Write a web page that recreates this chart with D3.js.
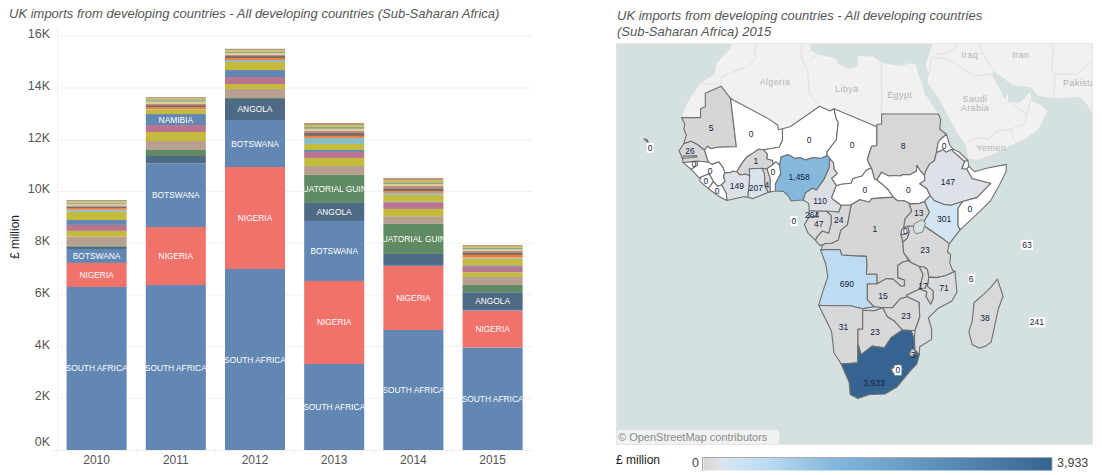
<!DOCTYPE html>
<html>
<head>
<meta charset="utf-8">
<script src="https://cdn.jsdelivr.net/npm/d3@7"></script>
<style>
body { margin: 0; background: #fff; font-family: "Liberation Sans", Arial, sans-serif; }
svg { display: block; }
</style>
</head>
<body>
<div id="chart"></div>
<script>
// ---- stacked bars, £ million
var years = ["2010", "2011", "2012", "2013", "2014", "2015"];
var yTicks = [0, 2000, 4000, 6000, 8000, 10000, 12000, 14000, 16000];

var southAfrica = [6305, 6380, 7000, 3327, 4642, 3965];
var nigeria = [930, 2245, 3945, 3211, 2476, 1424];
var botswana = [540, 2455, 1818, 2321, 39, 27];
var angola = [90, 290, 812, 696, 426, 685];
var eqGuinea = [30, 232, 39, 1083, 1161, 282];
var tanSeries = [360, 348, 348, 348, 298, 309];
var oliveSeries = [220, 348, 193, 310, 282, 182];
var pinkSeries = [230, 270, 270, 232, 259, 232];
var namibia = [190, 425, 270, 77, 25, 39];
var olive2Series = [320, 180, 310, 232, 259, 255];
var tealSeries = [80, 12, 77, 232, 77, 39];
var orangeSeries = [65, 77, 77, 77, 66, 104];
var brownSeries = [50, 77, 77, 116, 116, 104];
var rest1 = [50, 60, 55, 85, 90, 55];
var rest2 = [60, 70, 60, 75, 70, 60];
var rest3 = [50, 60, 55, 75, 70, 55];
var rest4 = [40, 60, 55, 70, 88, 55];
var rest5 = [60, 60, 57, 82, 80, 57];

var seriesValues = [southAfrica, nigeria, botswana, angola, eqGuinea, tanSeries, oliveSeries, pinkSeries,
    namibia, olive2Series, tealSeries, orangeSeries, brownSeries, rest1, rest2, rest3, rest4, rest5];
var seriesLabels = ["SOUTH AFRICA", "NIGERIA", "BOTSWANA", "ANGOLA", "EQUATORIAL GUINEA", "", "", "",
    "NAMIBIA", "", "", "", "", "", "", "", "", ""];
var seriesColors = ["#6287b3", "#f1716b", "#6287b3", "#4f6a85", "#5f8a63", "#b8a090", "#c4bb3c", "#b9758f",
    "#6287b3", "#c4bb3c", "#87bdc9", "#f47b3d", "#7d6a5c", "#b58f88", "#e3c98a", "#7fa98a", "#d0b94f", "#b39a7c"];
// which years carry a text label, by series index
var labelYears = [
    ["2010", "2011", "2012", "2013", "2014", "2015"],
    ["2010", "2011", "2012", "2013", "2014", "2015"],
    ["2010", "2011", "2012", "2013"],
    ["2012", "2013", "2015"],
    ["2013", "2014"],
    [], [], [],
    ["2011"]
];

// ---- map values
var countryNames = ["Mauritania", "Mali", "Niger", "Chad", "Sudan", "South Sudan", "Eritrea", "Djibouti", "Ethiopia", "Somalia",
    "Kenya", "Uganda", "Rwanda", "Burundi", "Tanzania", "DRC", "Congo", "Gabon", "Equatorial Guinea", "Cameroon",
    "CAR", "Nigeria", "Benin", "Togo", "Ghana", "Burkina Faso", "Cote d'Ivoire", "Liberia", "Sierra Leone", "Guinea",
    "Guinea-Bissau", "Senegal", "Gambia", "Angola", "Zambia", "Zimbabwe", "Botswana", "Namibia", "South Africa", "Lesotho",
    "Swaziland", "Mozambique", "Malawi", "Madagascar", "Cape Verde", "Sao Tome", "Seychelles", "Comoros", "Mauritius"];
var countryValues = [5, 0, 0, 0, 8, 0, 0, 0, 147, 0,
    301, 13, 0, 1, 23, 1, 24, 47, 264, 110,
    0, 1458, 0, 4, 207, 1, 149, 0, 0, 0,
    0, 26, 1, 690, 15, 23, 23, 31, 3933, 0,
    3, 71, 17, 38, 0, 0, 63, 6, 241];
var labelPositions = [[-10.8, 19.3], [-2.4, 18], [9.8, 16.8], [18.8, 15.8], [29.5, 15.6], [30.6, 6.6], [38.1, 15.6], null, [38.9, 8.2], [43.5, 2.6],
    [38.1, 0.5], [32.8, 1.8], [30, -1.9], null, [34.1, -6], [23.6, -1.6], [16, 0.3], [11.8, -0.5], [10.4, 1.4], [12.1, 4.3],
    [21.5, 6.6], [7.7, 9.3], [2.2, 10.3], [0.9, 7.6], [-1.4, 7], [-1.4, 12.6], [-5.4, 7.4], [-9.5, 6.4], [-11.9, 8.5], [-11, 10.5],
    [-14.4, 11.9], [-15.2, 14.7], null, [17.7, -13], [25.3, -15.5], [30.1, -19.5], [23.6, -22.5], [17, -21.6], [23.4, -32.1], [28.4, -29.8],
    [31.6, -27], [38.1, -13.8], [33.7, -13.4], [46.7, -19.9], [-23.6, 15.3], [6.6, 0.1], [55.5, -4.9], [43.8, -12], [57.6, -20.7]];
var boxedLabels = ["Cape Verde", "Sao Tome", "Seychelles", "Comoros", "Mauritius", "Lesotho"];

// country outlines, lon/lat
var countryShapes = [
    [[-17, 21.3], [-16.3, 20], [-16.5, 19], [-16, 17.9], [-16.5, 16.1], [-15, 16.6], [-13.8, 16], [-12.2, 14.8], [-11.5, 15.6], [-10.9, 15.1], [-9.4, 15.4], [-5.5, 15.5], [-5.6, 16.4], [-6.7, 25], [-8.7, 27.3], [-12, 26], [-12, 23.4], [-13, 23], [-13, 21.3]],
    [[-5.5, 15.5], [-5.6, 16.4], [-6.7, 25], [1.2, 21.1], [3.2, 19.8], [3.3, 18.9], [4.2, 19.1], [4.2, 16.8], [3.5, 15.4], [0.2, 14.9], [-0.8, 15], [-2, 14.2], [-3, 13.6], [-3.4, 13.3], [-4.4, 12], [-5.4, 10.4], [-6.2, 10.5], [-6.9, 10.2], [-7.9, 10.2], [-8.2, 11], [-8.4, 11.4], [-9.2, 12.4], [-10.6, 11.9], [-11.4, 12.4], [-12.2, 14.8], [-11.5, 15.6], [-10.9, 15.1], [-9.4, 15.4]],
    [[4.2, 19.1], [5.8, 19.5], [12, 23.5], [14.2, 22.6], [15, 23], [15.5, 21], [15.9, 20.4], [15.5, 16.9], [13.5, 14.4], [13.6, 13.7], [12.3, 13.1], [10.7, 13.3], [9, 12.8], [7.8, 13.3], [6.8, 13.1], [5.4, 13.9], [3.9, 13.4], [3.6, 11.7], [2.8, 12.4], [2.2, 11.9], [2.1, 12.7], [0.9, 13], [1, 14], [0.2, 14.9], [3.5, 15.4], [4.2, 16.8]],
    [[15, 23], [24, 19.5], [24, 15.7], [22.9, 15.6], [22, 12.9], [22.9, 11], [22.4, 11], [21.7, 10.6], [20.9, 9.5], [19, 9], [18.6, 8], [16.6, 7.8], [15.5, 7.5], [14.5, 9], [15.7, 10], [15, 10.9], [14.9, 12.2], [14.1, 13.1], [13.6, 13.7], [13.5, 14.4], [15.5, 16.9], [15.9, 20.4], [15.5, 21]],
    [[24, 19.5], [24, 20], [25, 20], [25, 22], [36.9, 22], [37.4, 21], [37.2, 19], [38.6, 18], [37.4, 17], [36.9, 16.4], [36.5, 14.3], [36.1, 12.7], [35, 11.9], [34.3, 10.6], [34, 9.6], [33, 10.7], [32.4, 11.7], [32.3, 10.5], [31, 9.8], [29.5, 9.8], [28.9, 9.5], [27.9, 9.6], [26.5, 9.5], [25, 10.3], [24, 8.7], [23.5, 8.9], [22.9, 11], [22, 12.9], [22.9, 15.6], [24, 15.7]],
    [[24, 8.7], [25, 10.3], [26.5, 9.5], [27.9, 9.6], [28.9, 9.5], [29.5, 9.8], [31, 9.8], [32.3, 10.5], [32.4, 11.7], [33, 10.7], [34, 9.6], [34.1, 8.6], [33, 7.9], [34.5, 6.9], [35.2, 5.4], [34, 4.2], [33, 3.8], [31, 3.7], [29.6, 4.4], [28.4, 4.3], [27.4, 5.1], [26.4, 6.6], [25.1, 7.8]],
    [[36.5, 14.3], [36.9, 16.4], [37.4, 17], [38.6, 18], [39.3, 15.8], [40, 15], [41.2, 14.5], [43.1, 12.7], [42.4, 12.5], [40, 14.5], [39.8, 15], [38.5, 14.4], [37.9, 14.9]],
    [[43.1, 12.7], [43.3, 11.5], [42.9, 10.9], [41.8, 11], [42.4, 12.5]],
    [[36.5, 14.3], [37.9, 14.9], [38.5, 14.4], [39.8, 15], [40, 14.5], [42.4, 12.5], [41.8, 11], [42.9, 10.9], [44, 9], [47.9, 8], [45, 5], [42, 4.2], [41, 3.9], [39.6, 3.4], [38, 3.6], [36, 4.4], [35.2, 5.4], [34.5, 6.9], [33, 7.9], [34.1, 8.6], [34, 9.6], [34.3, 10.6], [35, 11.9], [36.1, 12.7]],
    [[42.9, 10.9], [43.3, 11.5], [44.5, 10.4], [47, 11.1], [51.2, 11.9], [51.1, 10.4], [49.8, 7.8], [47.9, 4.4], [45.5, 2], [41.5, -1.7], [41, -0.9], [41, 2.8], [42, 4.2], [45, 5], [47.9, 8], [44, 9]],
    [[41.5, -1.7], [39.2, -4.7], [37.7, -3.5], [34, -1], [33.9, 0.1], [35, 1.9], [34, 4.2], [35.2, 5.4], [36, 4.4], [38, 3.6], [39.6, 3.4], [41, 3.9], [42, 4.2], [41, 2.8], [41, -0.9]],
    [[34, 4.2], [35, 1.9], [33.9, 0.1], [34, -1], [30.5, -1], [29.6, -1.4], [29.9, 0.6], [31.3, 2.2], [30.8, 3.5], [31, 3.7], [33, 3.8]],
    [[29.6, -1.4], [30.5, -1], [30.8, -2.3], [29.9, -2.7], [29, -2.7], [29.2, -1.7]],
    [[29, -2.7], [29.9, -2.7], [30.8, -2.3], [30.4, -3.5], [29.4, -4.4], [29.2, -3.2]],
    [[30.5, -1], [34, -1], [37.7, -3.5], [39.2, -4.7], [38.8, -6.4], [39.5, -6.9], [39.3, -8.6], [39.9, -10.2], [40.4, -10.4], [38.4, -11.3], [36.5, -11.7], [34.9, -11.6], [34.6, -10], [33.9, -9.5], [32.9, -9.4], [31.2, -8.6], [29.6, -6.5], [29.4, -4.4], [30.4, -3.5], [30.8, -2.3]],
    [[12.2, -6], [13, -5.9], [16.3, -5.9], [16.6, -7], [19.4, -7.2], [21.8, -7.3], [21.9, -9.5], [21.8, -11], [24, -11], [24, -13], [26, -11.9], [27.4, -12], [29, -13.4], [29.8, -13.4], [29.8, -12.2], [28.4, -11.7], [28.4, -9.2], [29.6, -8.4], [30.7, -8.2], [29.6, -6.5], [29.4, -4.4], [29.2, -3.2], [29, -2.7], [29.2, -1.7], [29.6, -1.4], [29.9, 0.6], [31.3, 2.2], [30.8, 3.5], [31, 3.7], [29.6, 4.4], [28.4, 4.3], [27.4, 5.1], [25.3, 5], [22.9, 4.8], [22.4, 4.1], [20.4, 4.6], [18.6, 3.5], [17.8, -0.7], [16.4, -1.8], [15.9, -3.9], [14.4, -4.6], [13.1, -4.6], [12.7, -4.9]],
    [[18.6, 3.5], [16.5, 3.4], [16, 2], [13.3, 2.2], [14.4, 1.3], [14.4, -0.4], [13.9, -2.4], [12.5, -2], [11.6, -3], [11.1, -3.9], [12, -5], [12.7, -4.9], [13.1, -4.6], [14.4, -4.6], [15.9, -3.9], [16.4, -1.8], [17.8, -0.7]],
    [[9.8, 1], [11.3, 1], [11.3, 2.2], [13.3, 2.2], [14.4, 1.3], [14.4, -0.4], [13.9, -2.4], [12.5, -2], [11.6, -3], [11.1, -3.9], [9.6, -2.5], [8.8, -0.7], [9.5, 0.5]],
    [[9.8, 1], [11.3, 1], [11.3, 2.2], [9.8, 2.3]],
    [[8.5, 4.5], [9.7, 3.8], [9.8, 2.3], [11.3, 2.2], [13.3, 2.2], [16, 2], [16.5, 3.4], [15, 4.5], [14.5, 5], [15.5, 7.5], [14.5, 9], [15.7, 10], [15, 10.9], [14.9, 12.2], [14.1, 13.1], [14, 11.3], [13.2, 9.5], [12.8, 8.7], [11.3, 6.6], [10.5, 7], [9, 6]],
    [[14.5, 5], [15, 4.5], [16.5, 3.4], [18.6, 3.5], [20.4, 4.6], [22.4, 4.1], [22.9, 4.8], [25.3, 5], [27.4, 5.1], [26.4, 6.6], [25.1, 7.8], [24, 8.7], [23.5, 8.9], [22.9, 11], [22.4, 11], [21.7, 10.6], [20.9, 9.5], [19, 9], [18.6, 8], [16.6, 7.8], [15.5, 7.5]],
    [[3.6, 11.7], [3.9, 13.4], [5.4, 13.9], [6.8, 13.1], [7.8, 13.3], [9, 12.8], [10.7, 13.3], [12.3, 13.1], [13.6, 13.7], [14.1, 13.1], [14, 11.3], [13.2, 9.5], [12.8, 8.7], [11.3, 6.6], [10.5, 7], [9, 6], [8.5, 4.5], [7, 4.4], [6, 4.3], [5.3, 5.5], [4.4, 6.3], [2.7, 6.4], [2.7, 7.9], [3.8, 10]],
    [[1.6, 6.2], [2.7, 6.4], [2.7, 7.9], [3.8, 10], [3.6, 11.7], [2.8, 12.4], [2.2, 11.9], [0.9, 11], [1.6, 9]],
    [[0.9, 11], [1.6, 9], [1.6, 6.2], [1.2, 6.1], [0.5, 7.4], [0.4, 10], [-0.1, 11.1]],
    [[-0.1, 11.1], [0.4, 10], [0.5, 7.4], [1.2, 6.1], [-2, 4.8], [-3.1, 5.1], [-2.8, 7.9], [-2.7, 9.5], [-2.8, 11]],
    [[-5.4, 10.4], [-4.4, 12], [-3.4, 13.3], [-3, 13.6], [-2, 14.2], [-0.8, 15], [0.2, 14.9], [1, 14], [0.9, 13], [2.1, 12.7], [2.2, 11.9], [0.9, 11], [-0.1, 11.1], [-2.8, 11], [-2.7, 9.5], [-3.6, 9.9], [-4.7, 9.7]],
    [[-7.9, 10.2], [-6.9, 10.2], [-6.2, 10.5], [-5.4, 10.4], [-4.7, 9.7], [-3.6, 9.9], [-2.7, 9.5], [-2.8, 7.9], [-3.1, 5.1], [-4, 5.2], [-7.5, 4.4], [-7.6, 5.9], [-8.6, 7.7], [-7.9, 8.4], [-8.2, 9.5]],
    [[-7.5, 4.4], [-9.2, 5.3], [-11.4, 6.9], [-10.3, 8.4], [-9.4, 7.4], [-8.6, 7.7], [-7.6, 5.9]],
    [[-11.4, 6.9], [-13.2, 8.5], [-12.9, 9.3], [-11.2, 10], [-10.3, 8.4]],
    [[-13.3, 9.1], [-12.9, 9.3], [-11.2, 10], [-10.3, 8.4], [-9.4, 7.4], [-8.6, 7.7], [-7.9, 8.4], [-8.2, 9.5], [-7.9, 10.2], [-8.2, 11], [-8.4, 11.4], [-9.2, 12.4], [-10.6, 11.9], [-11.4, 12.4], [-13.7, 12.6], [-13.7, 11.7], [-15, 10.9]],
    [[-13.7, 12.6], [-16.7, 12.3], [-15, 10.9], [-13.7, 11.7]],
    [[-16.5, 16.1], [-15, 16.6], [-13.8, 16], [-12.2, 14.8], [-11.4, 12.4], [-13.7, 12.6], [-16.7, 12.3], [-16.8, 13.1], [-17.5, 14.7]],
    [[-16.8, 13.1], [-13.8, 13.4], [-13.8, 13.7], [-16.6, 13.6]],
    [[12.2, -6], [13, -5.9], [16.3, -5.9], [16.6, -7], [19.4, -7.2], [21.8, -7.3], [21.9, -9.5], [21.8, -11], [24, -11], [24, -13], [22, -13], [22, -16.2], [23.4, -17.6], [21, -18], [18.4, -17.4], [14, -17.4], [11.8, -17.3], [12.5, -15], [13.7, -11.5], [13.3, -9]],
    [[22, -13], [24, -13], [26, -11.9], [27.4, -12], [29, -13.4], [29.8, -13.4], [29.8, -12.2], [28.4, -11.7], [28.4, -9.2], [29.6, -8.4], [30.7, -8.2], [31.2, -8.6], [32.9, -9.4], [33.7, -11], [33, -14], [30.2, -15.3], [30.4, -15.6], [28.9, -16], [27.3, -17.8], [25.2, -17.8], [23.4, -17.6], [22, -16.2]],
    [[25.2, -17.8], [27.3, -17.8], [28.9, -16], [30.4, -15.6], [32.9, -16.7], [33, -19.7], [32, -22.3], [31.2, -22.3], [29.4, -22.2], [27.7, -20.5], [26.2, -19.6]],
    [[21, -18.3], [23.4, -18.4], [25.2, -17.8], [26.2, -19.6], [27.7, -20.5], [29.4, -22.2], [27, -23.7], [25.6, -25.6], [23, -25.3], [20.7, -26.9], [20, -24.8], [20, -22], [21, -22]],
    [[11.8, -17.3], [14, -17.4], [18.4, -17.4], [21, -18], [23.4, -17.6], [25.2, -17.8], [23.4, -18.4], [21, -18.3], [21, -22], [20, -22], [20, -28.4], [17.4, -28.6], [16.5, -28.6], [15, -26.6], [14.5, -22.5]],
    [[16.5, -28.6], [17.4, -28.6], [20, -28.4], [20, -24.8], [20.7, -26.9], [23, -25.3], [25.6, -25.6], [27, -23.7], [29.4, -22.2], [31.2, -22.3], [31.9, -24], [32, -26], [32.9, -26.9], [32.4, -28.6], [31, -29.9], [28.2, -32.8], [25.7, -34], [22.5, -34.1], [20, -34.8], [18.4, -34.1], [18.2, -32]],
    [[27, -29.6], [28.6, -28.6], [29.4, -29.6], [28.2, -30.6], [27.4, -30.3]],
    [[30.8, -26.8], [31.3, -25.8], [32, -26], [32.1, -26.9], [31.3, -27.3]],
    [[32, -22.3], [33, -19.7], [32.9, -16.7], [30.4, -15.6], [30.2, -15.3], [33, -14], [34.5, -14.6], [34.3, -15.5], [35.3, -17.1], [35.8, -16], [35.8, -14.4], [34.6, -13.5], [34.9, -11.6], [36.5, -11.7], [38.4, -11.3], [40.4, -10.4], [40.8, -14.7], [39.7, -16.5], [36.9, -17.9], [34.8, -19.8], [35.5, -22], [35.5, -24], [33, -25.4], [32.9, -26.9], [32, -26], [31.9, -24]],
    [[32.9, -9.4], [33.9, -9.5], [34.6, -10], [34.9, -11.6], [34.6, -13.5], [35.8, -14.4], [35.8, -16], [35.3, -17.1], [34.3, -15.5], [34.5, -14.6], [33, -14], [33.7, -11]],
    [[49.3, -12], [50.5, -15.5], [49.5, -18], [48, -24.5], [47, -25.2], [45.5, -25.7], [44, -25], [43.3, -22.5], [44, -20.5], [44.4, -16.8], [46.5, -15], [47.8, -13.8]],
    [[-24.9, 17.1], [-24.2, 16.9], [-23.5, 15.1], [-23.4, 15.3], [-24.4, 16.7]],
    [[6.5, 0.1], [6.75, 0.3], [6.7, 0.05]],
    [[55.4, -4.6], [55.6, -4.6], [55.5, -4.8]],
    [[43.3, -11.5], [43.5, -11.8], [43.7, -12.3], [44.4, -12.2]],
    [[57.4, -20.1], [57.8, -20.1], [57.6, -20.5]]
];

// lakes and the land outside the data, lon/lat
var lakeVictoria = [[31.8, -0.5], [33.5, 0.4], [34.2, -0.3], [33.6, -2.2], [32.2, -2.6], [31.7, -1.8]];
var northAfrica = [[-17, 21.3], [-16, 23.7], [-14.5, 26], [-13, 27.8], [-10, 29.5], [-9.7, 31.5], [-6.8, 34], [-5.9, 36], [10, 37.5], [10.1, 33.8], [11.5, 33.1], [15.2, 32.4], [16, 31.3], [18, 30.5], [20, 31], [20, 32.8], [23, 32.7], [25, 31.6], [29, 31], [31, 31.5], [32.3, 31.2], [32.5, 30], [33.5, 28], [34, 26], [35.5, 24], [36.9, 22], [30, 15], [-10, 15]];
var asiaLand = [[34.2, 31.3], [34.9, 29.5], [34.6, 28], [37, 25], [39, 21.5], [41, 18], [42.6, 16], [43.3, 13], [45, 12.8], [48.5, 14], [52, 15.8], [55, 17], [57.8, 18.9], [59.8, 22.5], [58.6, 23.6], [56.5, 24.5], [56.3, 26.2], [54, 24.2], [51.6, 24.3], [51.5, 26], [50.8, 24.8], [50, 26.5], [48, 29.5], [48.7, 30], [51, 28.5], [52.5, 27.5], [56.5, 27], [57.5, 25.6], [61.5, 25], [66.5, 25.3], [68, 24], [70, 21], [75, 21], [75, 45], [30, 45], [36, 36], [35, 33]];
var landBorders = [
    [[-8.7, 27.7], [-13, 27.7]],
    [[-8.7, 27.3], [-8.7, 29], [-3, 31], [-1.5, 32.5], [-1.5, 36]],
    [[8.5, 37], [8, 33], [9.5, 30], [9.8, 26], [12, 23.5]],
    [[10, 32], [11.5, 33.1]],
    [[25, 31.6], [25, 22]],
    [[25, 22], [36.9, 22]],
    [[34.9, 29.5], [35.5, 32.5], [39, 32.2], [44.5, 29.2], [48, 29.5]],
    [[36, 33], [38.8, 33.4], [41, 34.5], [41.3, 37]],
    [[48.7, 30], [46, 33.5], [45, 36], [44.5, 38]],
    [[43, 16.5], [45, 17.4], [47.5, 17], [49, 18.5], [52, 19], [53, 16.7]],
    [[51.6, 24.3], [55.5, 22], [55, 20], [52, 19]],
    [[56.3, 24.8], [55.5, 22]],
    [[61, 25], [61.5, 29.5], [60.8, 30], [61, 36]],
    [[61.5, 29.5], [66, 29.5], [69, 32]]
];
var placeNames = ["Algeria", "Libya", "Egypt", "Iraq", "Iran", "Saudi", "Arabia", "Yemen"];
var placePositions = [[2.6, 28], [17.7, 26.7], [28.8, 25.6], [43.5, 33], [54.2, 33], [44.6, 24.9], [44.6, 23.2], [48, 15.2]];

var legendStops = [1, 150, 300, 700, 1460, 3933];
var legendColors = ["#d6d6d6", "#dde2e8", "#d3e5f3", "#bcdcf2", "#85b8dc", "#356491"];

var svg = d3.select("#chart").append("svg")
    .attr("width", 1102)
    .attr("height", 475);

var titleColor = "#555";

// ---- left chart
var x = d3.scaleBand().domain(years).range([57, 532.2]).paddingInner(0.242).paddingOuter(0.121);
var y = d3.scaleLinear().domain([0, 16000]).range([450, 36.3]);

svg.append("text")
    .attr("x", 9).attr("y", 18)
    .attr("font-size", 13).attr("font-style", "italic").attr("fill", titleColor)
    .text("UK imports from developing countries - All developing countries (Sub-Saharan Africa)");

svg.append("g").selectAll("line").data(yTicks.slice(1)).enter().append("line")
    .attr("x1", 57).attr("x2", 532.5)
    .attr("y1", function (d) { return y(d); }).attr("y2", function (d) { return y(d); })
    .attr("stroke", "#f0f0f0");
svg.append("line").attr("x1", 57.5).attr("x2", 57.5).attr("y1", 29).attr("y2", 450).attr("stroke", "#f0f0f0");
svg.append("line").attr("x1", 52).attr("x2", 532.5).attr("y1", 450.5).attr("y2", 450.5).attr("stroke", "#f0f0f0");

svg.append("g").selectAll("line").data(years).enter().append("line")
    .attr("x1", function (d) { return x(d) - 9.6; }).attr("x2", function (d) { return x(d) - 9.6; })
    .attr("y1", 450).attr("y2", 455)
    .attr("stroke", "#f0f0f0");

svg.append("g").selectAll("text").data(yTicks).enter().append("text")
    .attr("x", 50)
    .attr("y", function (d) { return d === 0 ? y(d) - 4.5 : y(d) + 2; })
    .attr("text-anchor", "end")
    .attr("font-size", 12.5).attr("fill", titleColor)
    .text(function (d) { return (d / 1000) + "K"; });

svg.append("g").selectAll("text").data(years).enter().append("text")
    .attr("x", function (d) { return x(d) + 30; })
    .attr("y", 464)
    .attr("text-anchor", "middle")
    .attr("font-size", 12).attr("fill", titleColor)
    .text(function (d) { return d; });

svg.append("text")
    .attr("transform", "translate(19,237) rotate(-90)")
    .attr("text-anchor", "middle")
    .attr("font-size", 12).attr("fill", "#222")
    .text("£ million");

// one row per year for d3.stack
var keys = seriesValues.map(function (s, i) { return i; });
var rows = years.map(function (yr, j) {
    var row = { year: yr };
    keys.forEach(function (k) { row[k] = seriesValues[k][j]; });
    return row;
});
var stacked = d3.stack().keys(keys)(rows);

var defs = svg.append("defs");
years.forEach(function (yr, j) {
    defs.append("clipPath").attr("id", "bar" + j).append("rect")
        .attr("x", x(yr)).attr("width", x.bandwidth())
        .attr("y", 0).attr("height", 475);
});

var layers = svg.append("g").selectAll("g").data(stacked).enter().append("g")
    .attr("fill", function (d) { return seriesColors[d.key]; });
layers.selectAll("rect").data(function (d) { return d; }).enter().append("rect")
    .attr("x", function (d) { return x(d.data.year); })
    .attr("width", x.bandwidth())
    .attr("y", function (d) { return y(d[1]); })
    .attr("height", function (d) { return y(d[0]) - y(d[1]); });

stacked.forEach(function (layer) {
    var yearsForLabel = labelYears[layer.key] || [];
    layer.forEach(function (d, j) {
        if (yearsForLabel.indexOf(d.data.year) < 0) return;
        svg.append("g").attr("clip-path", "url(#bar" + j + ")").append("text")
            .attr("x", x(d.data.year) + x.bandwidth() / 2)
            .attr("y", (y(d[0]) + y(d[1])) / 2 + 3)
            .attr("text-anchor", "middle")
            .attr("font-size", 8.4).attr("fill", "#fff")
            .text(seriesLabels[layer.key]);
    });
});

// ---- right map
svg.append("text").attr("x", 617).attr("y", 20)
    .attr("font-size", 13).attr("font-style", "italic").attr("fill", titleColor)
    .text("UK imports from developing countries - All developing countries");
svg.append("text").attr("x", 617).attr("y", 36)
    .attr("font-size", 13).attr("font-style", "italic").attr("fill", titleColor)
    .text("(Sub-Saharan Africa) 2015");

var projection = d3.geoMercator().scale(273).translate([762.5, 221.5]);
var outline = d3.line().curve(d3.curveLinearClosed);
var openLine = d3.line();
function toPath(coords) { return outline(coords.map(projection)); }

defs.append("clipPath").attr("id", "mapClip").append("rect")
    .attr("x", 617).attr("y", 44).attr("width", 475).attr("height", 400);

var colorScale = d3.scaleLinear().domain(legendStops).range(legendColors);
function fillFor(v) { return v === 0 ? "#fff" : colorScale(v); }

var map = svg.append("g").attr("clip-path", "url(#mapClip)");
map.append("rect").attr("x", 617).attr("y", 44).attr("width", 475).attr("height", 400).attr("fill", "#d5e0e0");

map.append("g").selectAll("path").data([northAfrica, asiaLand]).enter().append("path")
    .attr("d", toPath)
    .attr("fill", "#f1f1f1");
map.append("g").selectAll("path").data(landBorders).enter().append("path")
    .attr("d", function (d) { return openLine(d.map(projection)); })
    .attr("fill", "none").attr("stroke", "#dcdcdc").attr("stroke-width", 0.8);

map.append("g").selectAll("text").data(placeNames).enter().append("text")
    .attr("x", function (d, i) { return projection(placePositions[i])[0]; })
    .attr("y", function (d, i) { return projection(placePositions[i])[1] + 3; })
    .attr("text-anchor", "middle")
    .attr("font-size", 9).attr("letter-spacing", 0.4).attr("fill", "#b3b3b3")
    .text(function (d) { return d; });
map.append("text").attr("x", 1063).attr("y", 86)
    .attr("font-size", 9).attr("letter-spacing", 0.4).attr("fill", "#b3b3b3")
    .text("Pakistan");

map.append("g").selectAll("path").data(countryShapes).enter().append("path")
    .attr("d", toPath)
    .attr("fill", function (d, i) { return fillFor(countryValues[i]); })
    .attr("stroke", "#6f6f6f").attr("stroke-width", 1.1).attr("stroke-linejoin", "round");

map.append("path").attr("d", toPath(lakeVictoria))
    .attr("fill", "#d5e0e0").attr("stroke", "#6f6f6f").attr("stroke-width", 0.8);

var labelGroup = map.append("g");
countryNames.forEach(function (name, i) {
    if (!labelPositions[i]) return;
    var p = projection(labelPositions[i]);
    var g = labelGroup.append("g");
    var t = g.append("text")
        .attr("x", p[0]).attr("y", p[1] + 3)
        .attr("text-anchor", "middle")
        .attr("font-size", 8.5).attr("fill", "#14213d")
        .text(d3.format(",")(countryValues[i]));
    if (boxedLabels.indexOf(name) >= 0) {
        var b = t.node().getBBox();
        g.insert("rect", "text")
            .attr("x", b.x - 1).attr("y", b.y)
            .attr("width", b.width + 2).attr("height", b.height)
            .attr("fill", "#fff");
    }
});

// attribution
map.append("rect").attr("x", 617).attr("y", 430).attr("width", 162).attr("height", 14).attr("fill", "#eff2f2");
map.append("text").attr("x", 618).attr("y", 441)
    .attr("font-size", 11).attr("fill", "#8a8a8a")
    .text("© OpenStreetMap contributors");

svg.append("rect").attr("x", 616.5).attr("y", 43.5).attr("width", 476).attr("height", 401)
    .attr("fill", "none").attr("stroke", "#e4e4e4");

// ---- legend
var grad = defs.append("linearGradient").attr("id", "legendGrad");
grad.append("stop").attr("offset", 0).attr("stop-color", "#fff");
legendStops.forEach(function (v, i) {
    grad.append("stop")
        .attr("offset", Math.max(v, 20) / 3933)
        .attr("stop-color", legendColors[i]);
});

svg.append("text").attr("x", 616).attr("y", 464)
    .attr("font-size", 12).attr("fill", "#222").text("£ million");
svg.append("text").attr("x", 692).attr("y", 467)
    .attr("font-size", 12.5).attr("fill", "#444").text("0");
svg.append("rect").attr("x", 702.5).attr("y", 457.5).attr("width", 349.5).attr("height", 13)
    .attr("fill", "url(#legendGrad)");
svg.append("path").attr("d", d3.line()([[702.5, 471], [702.5, 457.5], [1052, 457.5], [1052, 471]]))
    .attr("fill", "none").attr("stroke", "#a8a8a8");
svg.append("text").attr("x", 1057).attr("y", 467)
    .attr("font-size", 12.5).attr("fill", "#444").text("3,933");
</script>
</body>
</html>
